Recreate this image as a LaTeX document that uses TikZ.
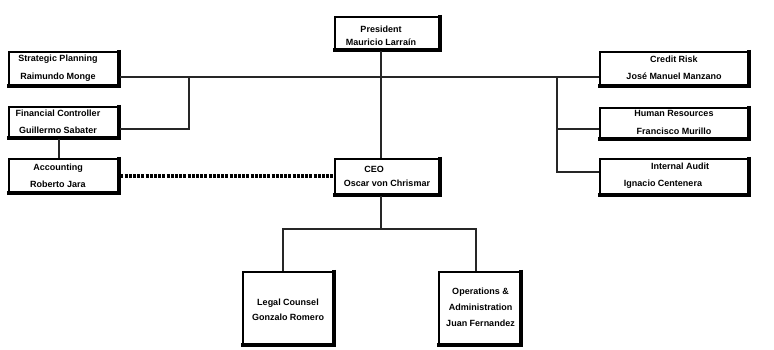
\documentclass[tikz,border=0pt]{standalone}
\usepackage{fontspec}
\setmainfont{Liberation Sans}
\usepackage{tikz}
\usetikzlibrary{positioning, calc}

\tikzset{
  orgbox/.style={draw, line width=2.4pt, inner sep=0pt, anchor=north west},
  lbl/.style={font=\bfseries\fontsize{9}{#1}\selectfont, align=center, inner sep=0pt},
  conn/.style={line width=1.5pt, black!85},
  dashlink/.style={line width=3.5pt, dash pattern=on 3pt off 1.2pt}
}

\begin{document}
\begin{tikzpicture}[x=1pt, y=-1pt]
      \fill[white] (0,0) rectangle (774,349);
      \useasboundingbox (0,0) rectangle (774,349);

      % boxes
      \node[orgbox, minimum width=105pt, minimum height=33pt] (pres) at (334,16) {};
      \node[orgbox, minimum width=110pt, minimum height=34pt] (stp) at (8,51) {};
      \node[orgbox, minimum width=110pt, minimum height=31pt] (fc) at (8,106) {};
      \node[orgbox, minimum width=110pt, minimum height=34pt] (acc) at (8,158) {};
      \node[orgbox, minimum width=105pt, minimum height=36pt] (ceo) at (334,158) {};
      \node[orgbox, minimum width=149pt, minimum height=34pt] (cr) at (599,51) {};
      \node[orgbox, minimum width=149pt, minimum height=31pt] (hr) at (599,107) {};
      \node[orgbox, minimum width=149pt, minimum height=36pt] (ia) at (599,158) {};
      \node[orgbox, minimum width=91pt, minimum height=73pt] (legal) at (242,271) {};
      \node[orgbox, minimum width=82pt, minimum height=73pt] (ops) at (438,271) {};

      % heavy right and bottom edges
      \foreach \b in {pres,stp,fc,acc,ceo,cr,hr,ia,legal,ops}
        \draw[line width=4.5pt] ([xshift=-1.25pt,yshift=1.2pt]\b.north east) -- ([xshift=-1.25pt,yshift=1.25pt]\b.south east) -- ([xshift=-1.2pt,yshift=1.25pt]\b.south west);

      % texts
      \node[lbl=13] (presT) at (381,36) {President\\Mauricio Larraín};
      \node[lbl=17.5] (stpT) at (58,68) {Strategic Planning\\Raimundo Monge};
      \node[lbl=17.5] (fcT) at (58,122) {Financial Controller\\Guillermo Sabater};
      \node[lbl=17] (accT) at (58,176) {Accounting\\Roberto Jara};
      \node[lbl=14] (ceoT) at (387,176) {CEO\hspace*{26pt}\\Oscar von Chrismar};
      \node[lbl=17] (crT) at (674,67.5) {Credit Risk\\José Manuel Manzano};
      \node[lbl=17.5] (hrT) at (674,122.5) {Human Resources\\Francisco Murillo};
      \node[lbl=17] (iaT) at (663,176) {\hspace*{34pt}Internal Audit\\Ignacio Centenera};
      \node[lbl=15] (legalT) at (288,310) {Legal Counsel\\Gonzalo Romero};
      \node[lbl=16] (opsT) at (480.5,307) {Operations \&\\Administration\\Juan Fernandez};

      % junction points
      \coordinate (topbus) at (381,77);
      \coordinate (lbend) at (189,129);
      \coordinate (rbus) at (557,77);
      \coordinate (hrtap) at (557,129);
      \coordinate (iatap) at (557,172);
      \coordinate (accx) at (59,147);
      \coordinate (lowbus) at (381,229);
      \coordinate (leglead) at (283,229);
      \coordinate (opslead) at (476,229);
      \coordinate (dashrow) at (0,176);

      % connectors
      \draw[conn] (pres.south -| topbus) -- (ceo.north -| topbus);
      \draw[conn] (stp.east |- topbus) -- (cr.west |- topbus);
      \draw[conn] (lbend |- topbus) -- (lbend) -- (fc.east |- lbend);
      \draw[conn] (rbus) -- (iatap) -- (ia.west |- iatap);
      \draw[conn] (hrtap) -- (hr.west |- hrtap);
      \draw[conn] (fc.south -| accx) -- (acc.north -| accx);
      \draw[conn] (ceo.south -| lowbus) -- (lowbus);
      \draw[conn] (legal.north -| leglead) -- (leglead) -- (opslead) -- (ops.north -| opslead);
      \draw[dashlink] (acc.east |- dashrow) -- (ceo.west |- dashrow);
    \end{tikzpicture}
\end{document}
